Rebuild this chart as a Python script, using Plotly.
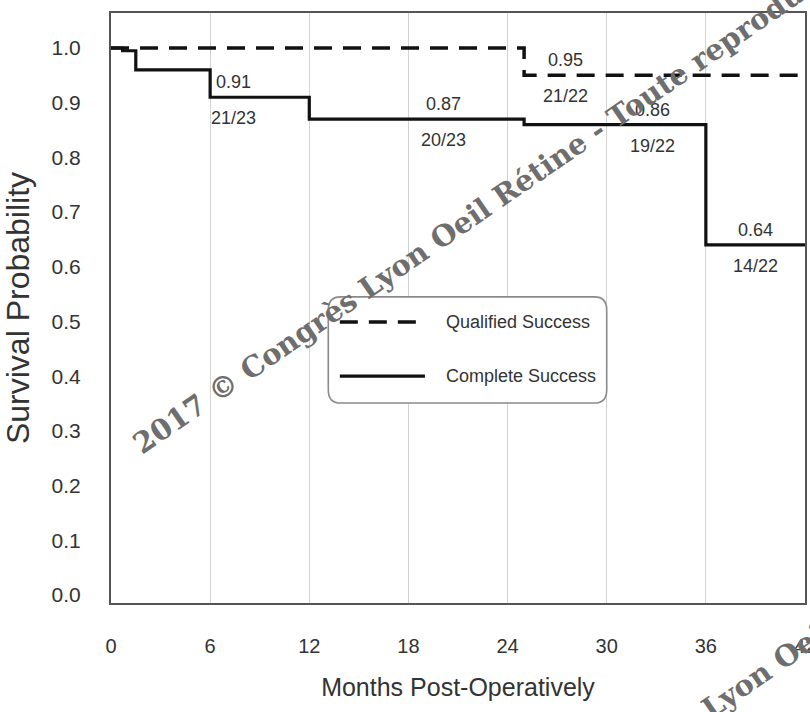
import plotly.graph_objects as go

# Kaplan-Meier survival estimates (months post-op -> survival probability)
months_complete = [0, 0.7, 1.5, 6, 12, 25, 36, 42]
surv_complete = [1.0, 0.995, 0.96, 0.91, 0.87, 0.86, 0.64, 0.64]
months_qualified = [0, 25, 42]
surv_qualified = [1.0, 0.95, 0.95]

# Time points that carry an estimate / count label
label_months_complete = [6, 12, 25, 36]
label_counts_complete = ["21/23", "20/23", "19/22", "14/22"]
label_months_qualified = [25]
label_counts_qualified = ["21/22"]

x_ticks = [0, 6, 12, 18, 24, 30, 36, 42]
y_ticks = [0.0, 0.1, 0.2, 0.3, 0.4, 0.5, 0.6, 0.7, 0.8, 0.9, 1.0]

series_names = ["Qualified Success", "Complete Success"]

# ---- styling -------------------------------------------------------------
SANS = "Liberation Sans, Arial, sans-serif"
TEXT = "#333333"
AXIS = "#555555"
TICK = "#666666"
dash_style = dict(color="#111111", width=3.5, dash="18px,11px")
solid_style = dict(color="#111111", width=3.2)

# horizontal centre of each label pair (months)
label_x_complete = [7.4, 20.1, 32.8, 39.0]
label_x_qualified = [27.5]
ABOVE, BELOW = 15, -21  # pixel offsets of the two label rows

X_RANGE = [0, 42]
Y_RANGE = [-0.0146, 1.064]

fig = go.Figure()

fig.add_trace(go.Scatter(
    x=months_complete, y=surv_complete, mode="lines",
    line=dict(shape="hv", **solid_style), name=series_names[1], showlegend=False,
))
fig.add_trace(go.Scatter(
    x=months_qualified, y=surv_qualified, mode="lines",
    line=dict(shape="hv", **dash_style), name=series_names[0], showlegend=False,
))


def surv_at(months, surv, m):
    return surv[months.index(m)]


annotations = []


def add_pair(xc, value, count):
    annotations.append(dict(x=xc, y=value, xref="x", yref="y", text=f"{value:.2f}",
                            showarrow=False, yshift=ABOVE, font=dict(family=SANS, size=18, color=TEXT)))
    annotations.append(dict(x=xc, y=value, xref="x", yref="y", text=count,
                            showarrow=False, yshift=BELOW, font=dict(family=SANS, size=18, color=TEXT)))


for m, xc, c in zip(label_months_complete, label_x_complete, label_counts_complete):
    add_pair(xc, surv_at(months_complete, surv_complete, m), c)
for m, xc, c in zip(label_months_qualified, label_x_qualified, label_counts_qualified):
    add_pair(xc, surv_at(months_qualified, surv_qualified, m), c)

# ---- legend box (rounded frame, line samples, labels) ---------------------
bx0, bx1, by0, by1 = 13.15, 30.0, 0.351, 0.545
rx, ry = 0.75, 0.024
box_path = (f"M {bx0+rx},{by1} L {bx1-rx},{by1} Q {bx1},{by1} {bx1},{by1-ry} "
            f"L {bx1},{by0+ry} Q {bx1},{by0} {bx1-rx},{by0} L {bx0+rx},{by0} "
            f"Q {bx0},{by0} {bx0},{by0+ry} L {bx0},{by1-ry} Q {bx0},{by1} {bx0+rx},{by1} Z")
shapes = [dict(type="path", path=box_path, xref="x", yref="y", layer="above",
               line=dict(color="#8a8a8a", width=1.6), fillcolor="white")]
legend_rows = [(0.499, dash_style), (0.400, solid_style)]
for (ly, style), name in zip(legend_rows, series_names):
    shapes.append(dict(type="line", x0=13.85, x1=19.0, y0=ly, y1=ly, xref="x", yref="y",
                       layer="above", line=style))
    annotations.append(dict(x=20.15, y=ly, xref="x", yref="y", text=name, xanchor="left",
                            showarrow=False, font=dict(family=SANS, size=18, color=TEXT)))

# ---- diagonal copyright watermark ---------------------------------------
wm_text = "2017 © Congrès Lyon Oeil Rétine - Toute reproduction interdite"
wm_font = dict(family="DejaVu Serif, Liberation Serif, serif", size=29, color="#6e6e6e", weight="bold")
for wx, wy in [(0.0187, 0.236), (0.513, -0.476)]:
    annotations.append(dict(x=wx, y=wy, xref="paper", yref="paper", text=wm_text,
                            textangle=-34.5, xanchor="left", yanchor="bottom",
                            showarrow=False, font=wm_font))

axis_common = dict(zeroline=False, fixedrange=True, automargin=False)

fig.update_layout(
    width=810, height=712,
    margin=dict(l=111, r=5, t=13, b=109),
    paper_bgcolor="white", plot_bgcolor="white",
    showlegend=False,
    shapes=shapes, annotations=annotations,
    xaxis=dict(
        range=X_RANGE, tickvals=x_ticks, ticktext=[str(v) for v in x_ticks],
        ticks="", showgrid=True, gridcolor="#d2d2d2", gridwidth=1.2,
        showline=True, mirror=True, linecolor=AXIS, linewidth=2,
        tickfont=dict(family=SANS, size=20, color=TEXT), ticklabelstandoff=24,
        ticklabeloverflow="allow",
        title=dict(text="Months Post-Operatively", font=dict(family=SANS, size=25, color=TEXT), standoff=22),
        **axis_common,
    ),
    xaxis2=dict(range=X_RANGE, overlaying="x", anchor="y", side="bottom", tickvals=x_ticks[1:],
                ticks="outside", ticklen=20, tickwidth=1.4, tickcolor=TICK,
                showticklabels=False, showgrid=False, showline=False, **axis_common),
    xaxis3=dict(range=X_RANGE, overlaying="x", anchor="y", side="bottom", tickvals=x_ticks[1:],
                ticks="inside", ticklen=10, tickwidth=1.4, tickcolor=TICK,
                showticklabels=False, showgrid=False, showline=False, **axis_common),
    yaxis=dict(
        range=Y_RANGE, tickvals=y_ticks, ticktext=[f"{v:.1f}" for v in y_ticks],
        ticks="", showgrid=False,
        showline=True, mirror=True, linecolor=AXIS, linewidth=2,
        tickfont=dict(family=SANS, size=21, color=TEXT), ticklabelstandoff=24,
        title=dict(text="Survival Probability", font=dict(family=SANS, size=32, color=TEXT), standoff=12),
        **axis_common,
    ),
    yaxis2=dict(range=Y_RANGE, overlaying="y", anchor="x", side="left", tickvals=y_ticks[1:],
                ticks="outside", ticklen=16, tickwidth=1.4, tickcolor=TICK,
                showticklabels=False, showgrid=False, showline=False, **axis_common),
    yaxis3=dict(range=Y_RANGE, overlaying="y", anchor="x", side="left", tickvals=y_ticks[1:],
                ticks="inside", ticklen=8, tickwidth=1.4, tickcolor=TICK,
                showticklabels=False, showgrid=False, showline=False, **axis_common),
)

fig.write_html("out.html")
